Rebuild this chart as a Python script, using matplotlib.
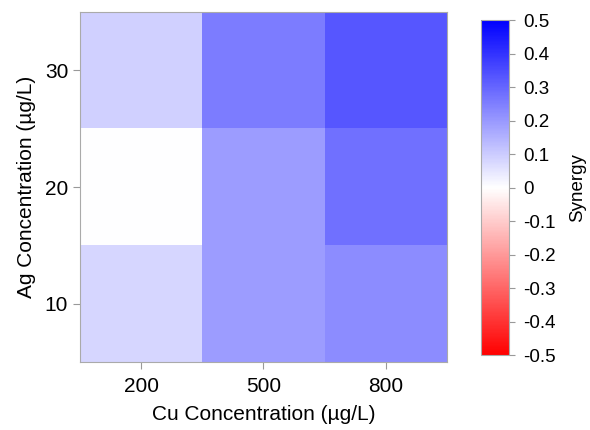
import numpy as np
import matplotlib
matplotlib.use("Agg")
import matplotlib.pyplot as plt
from matplotlib.colors import LinearSegmentedColormap

plt.rcParams['font.family'] = ['Liberation Sans', 'DejaVu Sans']

# data
cu = ['200', '500', '800']
ag = ['10', '20', '30']
synergy = np.array([
    [0.08, 0.195, 0.225],   # Ag 10
    [0.00, 0.195, 0.28],    # Ag 20
    [0.09, 0.255, 0.33],    # Ag 30
])
cbar_ticks = [-0.5, -0.4, -0.3, -0.2, -0.1, 0, 0.1, 0.2, 0.3, 0.4, 0.5]

cmap = LinearSegmentedColormap.from_list('rwb', ['#ff0000', '#ffffff', '#0000ff'])

fig = plt.figure(figsize=(5.9, 4.3), dpi=100)
ax = fig.add_axes([0.1356, 0.158, 0.622, 0.814])
im = ax.imshow(synergy, cmap=cmap, vmin=-0.5, vmax=0.5, origin='lower',
               aspect='auto', interpolation='nearest')
ax.set_xticks(range(len(cu)))
ax.set_xticklabels(cu)
ax.set_yticks(range(len(ag)))
ax.set_yticklabels(ag)
ax.tick_params(axis='both', labelsize=15, color='#999999', length=5, width=0.8)
ax.tick_params(axis='x', pad=6)
for s in ax.spines.values():
    s.set_color('#aaaaaa')
    s.set_linewidth(0.8)
ax.set_xlabel('Cu Concentration (\u00b5g/L)', fontsize=15, labelpad=6)
ax.set_ylabel('Ag Concentration (\u00b5g/L)', fontsize=15, labelpad=6)

cax = fig.add_axes([0.815, 0.174, 0.048, 0.779])
cb = fig.colorbar(im, cax=cax, ticks=cbar_ticks)
cb.ax.set_yticklabels(['%g' % t for t in cbar_ticks])
cb.ax.tick_params(labelsize=13.5, color='#999999', length=4, width=0.8, pad=6)
cb.outline.set_edgecolor('#aaaaaa')
cb.outline.set_linewidth(0.8)
cb.set_label('Synergy', fontsize=13.5, labelpad=10)

fig.savefig('out.png', dpi=100)
